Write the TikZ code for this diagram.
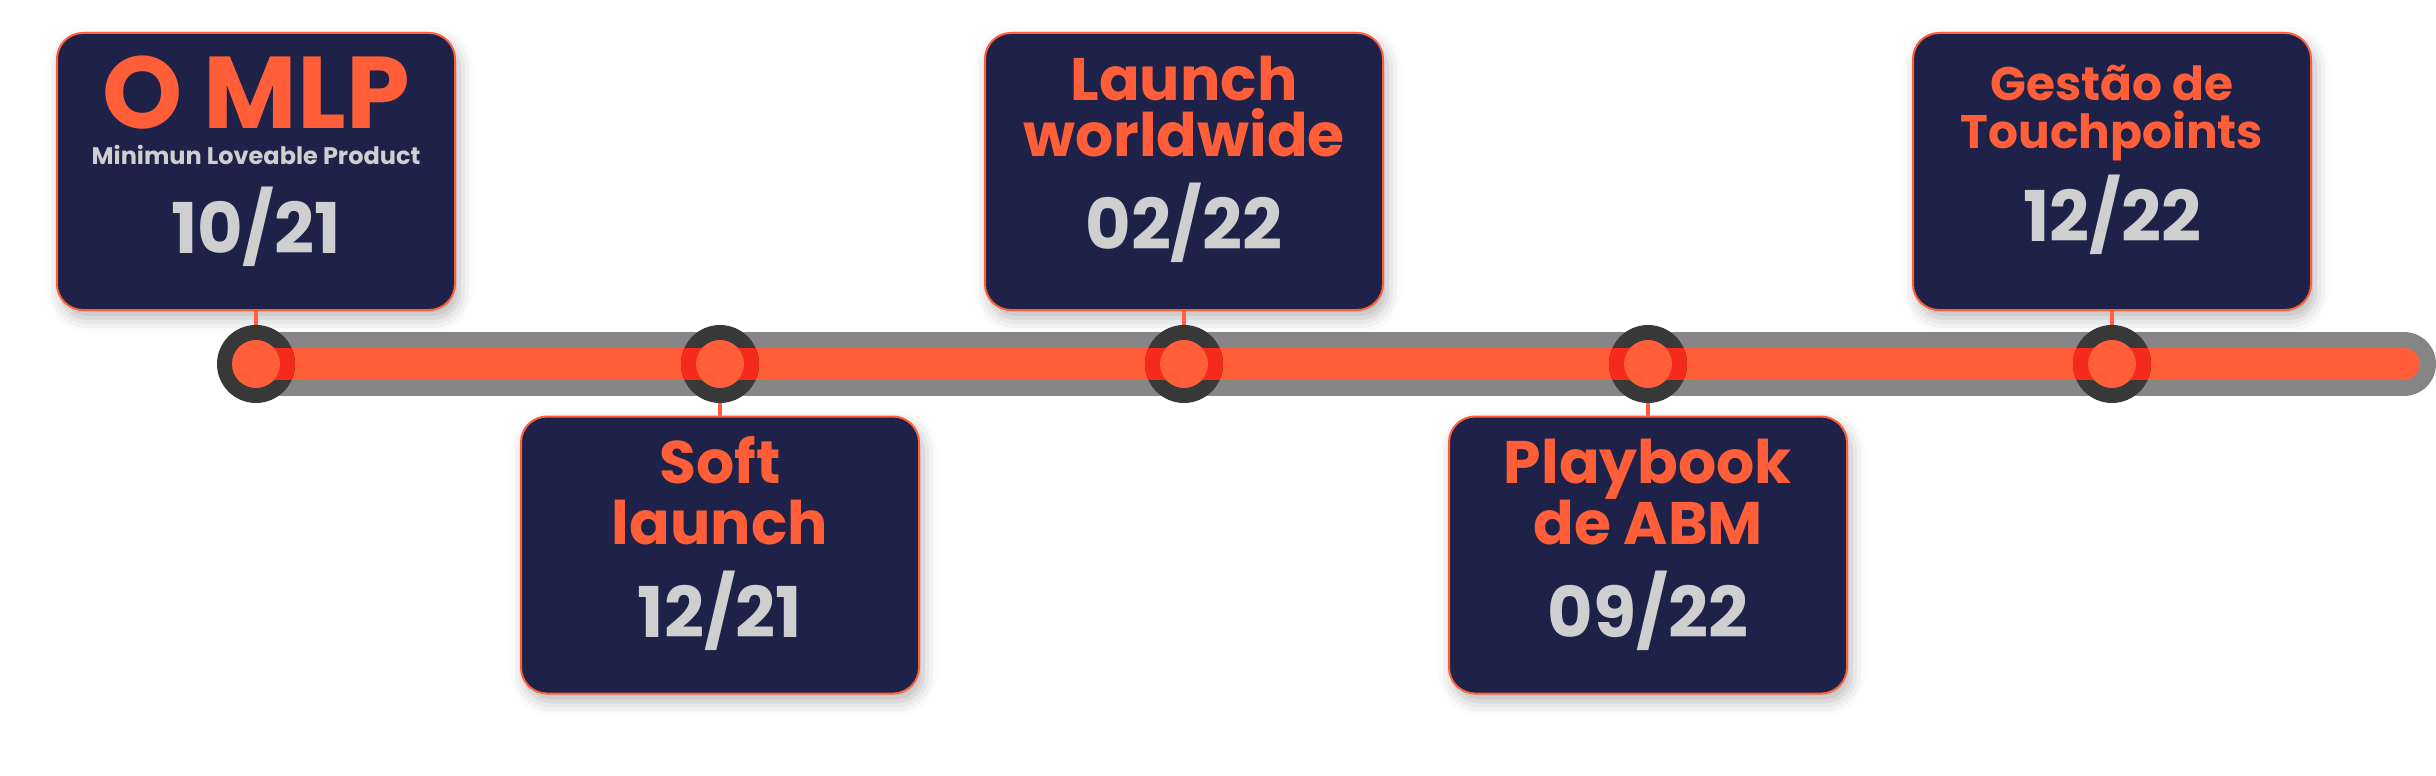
\documentclass[tikz,border=0pt]{standalone}
\usepackage{fontspec}
\setmainfont{Poppins}
\usetikzlibrary{positioning,shadows.blur}

\definecolor{navy}{HTML}{1E2249}
\definecolor{coral}{HTML}{FF5E38}
\definecolor{ringred}{HTML}{F52A1A}
\definecolor{ringdark}{HTML}{383838}
\definecolor{bargray}{HTML}{858585}
\definecolor{dategray}{HTML}{CFCFCF}

\begin{document}
\begin{tikzpicture}[x=1pt, y=-1pt,
        card/.style={draw=coral, line width=2pt, fill=navy, rounded corners=26pt,
                     minimum width=398pt, minimum height=277pt, inner sep=0pt,
                     blur shadow={shadow xshift=4pt, shadow yshift=-8pt,
                                  shadow blur radius=14pt, shadow opacity=28}},
        headline/.style={anchor=base, inner sep=0pt, text=coral,
                         font=\bfseries\fontsize{60}{60}\selectfont},
        smallhead/.style={headline, font=\bfseries\fontsize{47}{47}\selectfont},
        bighead/.style={headline, text depth=0pt,
                        font=\bfseries\fontsize{102}{102}\selectfont},
        subline/.style={anchor=base, inner sep=0pt, text=dategray,
                        font=\bfseries\fontsize{24}{24}\selectfont},
        datum/.style={anchor=base, inner sep=0pt, text=dategray,
                      font=\bfseries\fontsize{70}{70}\selectfont},
        link/.style={draw=coral, line width=4pt},
        milestone/.style={circle, fill=ringdark, minimum size=78pt, inner sep=0pt,
                          path picture={
                            \fill[ringred] ([yshift=-16pt]path picture bounding box.west)
                                rectangle ([yshift=16pt]path picture bounding box.east);
                            \fill[coral] (path picture bounding box.center) circle (24);}},
        startstone/.style={circle, fill=ringdark, minimum size=78pt, inner sep=0pt,
                          path picture={
                            \fill[ringred] ([yshift=-16pt]path picture bounding box.center)
                                rectangle ([yshift=16pt]path picture bounding box.east);
                            \fill[coral] (path picture bounding box.center) circle (24);}}]
      \useasboundingbox (0,0) rectangle (2436,776);

      % points on the timeline
      \coordinate (p1) at (256, 364);
      \coordinate (p2) at (720, 364);
      \coordinate (p3) at (1184,364);
      \coordinate (p4) at (1648,364);
      \coordinate (p5) at (2112,364);
      \coordinate (barend) at (2404,364);

      % cards
      \node[card] (mlp)      at (256, 171.5) {};
      \node[card] (soft)     at (720, 555)   {};
      \node[card] (launch)   at (1184,171.5) {};
      \node[card] (playbook) at (1648,555)   {};
      \node[card] (gestao)   at (2112,171.5) {};

      \node[bighead] (mlpT)  at (256, 128) {O MLP};
      \node[subline] (mlpS)  at (256, 164) {Minimun Loveable Product};
      \node[datum]   (mlpD)  at (256, 253) {10/21};

      \node[headline] (softA) at (720, 483) {Soft};
      \node[headline] (softB) at (720, 544) {launch};
      \node[datum]    (softD) at (720, 637) {12/21};

      \node[headline] (launchA) at (1184,100) {Launch};
      \node[headline] (launchB) at (1184,156) {worldwide};
      \node[datum]    (launchD) at (1184,249) {02/22};

      \node[headline] (playA) at (1648,483) {Playbook};
      \node[headline] (playB) at (1648,544) {de ABM};
      \node[datum]    (playD) at (1648,637) {09/22};

      \node[smallhead] (gestA) at (2112,100) {Gestão de};
      \node[smallhead] (gestB) at (2112,148) {Touchpoints};
      \node[datum]     (gestD) at (2112,241) {12/22};

      % timeline bar
      \draw[bargray, line width=64pt, line cap=round] (p1) -- (barend);
      \draw[coral, line width=32pt, line cap=round] (p1) -- (barend);

      \draw[link] (mlp.south) -- (p1);
      \draw[link] (soft.north) -- (p2);
      \draw[link] (launch.south) -- (p3);
      \draw[link] (playbook.north) -- (p4);
      \draw[link] (gestao.south) -- (p5);

      \node[startstone] (m1) at (p1) {};
      \node[milestone] (m2) at (p2) {};
      \node[milestone] (m3) at (p3) {};
      \node[milestone] (m4) at (p4) {};
      \node[milestone] (m5) at (p5) {};
    \end{tikzpicture}
\end{document}
